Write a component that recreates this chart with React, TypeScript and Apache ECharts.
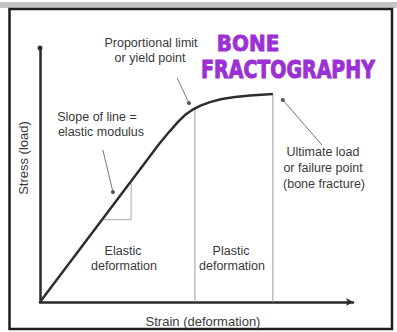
import React, { useEffect, useRef } from "react";
import * as echarts from "echarts";

// Stress–strain curve (strain %, stress %)
const curveStrain = [0, 38.3, 41.5, 44.1, 46.3, 48.6, 51.1, 54.3, 58.1, 62.3, 67.1, 74.4];
const curveStress = [0, 62.6, 67.3, 70.9, 73.6, 75.6, 77.2, 78.7, 79.9, 80.7, 81.3, 81.9];

// region dividers: yield point and failure point
const yieldStrain = 49.5;
const yieldStress = 76.2;
const failStrain = 74.4;
const failStress = 81.9;

// slope triangle
const slopeTri = [
  [20.1, 32.4],
  [29.1, 32.4],
  [29.1, 47.6],
];

// annotation pointers [from, to]
const pointerYield = [
  [43.8, 88.2],
  [47.6, 78.3],
];
const pointerSlope = [
  [20.1, 59.8],
  [23.3, 43.3],
];
const pointerFail = [
  [90.1, 61.8],
  [77.6, 79.5],
];

const FONT = "Liberation Sans, Arial, sans-serif";

export default function App() {
  const ref = useRef<HTMLDivElement>(null);
  useEffect(() => {
    if (!ref.current) return;
    const chart = echarts.init(ref.current, null, { renderer: "svg" });

    const txt = (text: string, x: number, y: number, size = 12.5, extra: any = {}) => ({
      type: "text",
      x,
      y,
      ...extra,
      style: {
        text,
        font: `${size}px ${FONT}`,
        fill: "#3a3a3a",
        textAlign: "center",
        textVerticalAlign: "middle",
      },
    });

    const pointer = (pts: number[][]) => ({
      type: "line",
      data: [
        { value: pts[0], symbol: "none" },
        { value: pts[1], symbol: "circle", symbolSize: 4 },
      ],
      lineStyle: { color: "#777", width: 1 },
      itemStyle: { color: "#555" },
      showSymbol: true,
      silent: true,
      z: 3,
    });

    const option: any = {
      animation: false,
      backgroundColor: "#ffffff",
      grid: { left: 40, top: 48, right: 44, bottom: 30 },
      xAxis: {
        type: "value",
        min: 0,
        max: 100,
        axisLine: {
          show: true,
          lineStyle: { color: "#2a2a2a", width: 2.5 },
          symbol: ["none", "arrow"],
          symbolSize: [6, 7],
        },
        axisTick: { show: false },
        axisLabel: { show: false },
        splitLine: { show: false },
      },
      yAxis: {
        type: "value",
        min: 0,
        max: 100,
        axisLine: {
          show: true,
          lineStyle: { color: "#2a2a2a", width: 2.5 },
          symbol: ["none", "circle"],
          symbolSize: [5, 5],
        },
        axisTick: { show: false },
        axisLabel: { show: false },
        splitLine: { show: false },
      },
      series: [
        {
          type: "line",
          data: curveStrain.map((s, i) => [s, curveStress[i]]),
          smooth: false,
          showSymbol: false,
          lineStyle: { color: "#2e2e2e", width: 2.5, join: "round" },
          z: 4,
        },
        {
          type: "line",
          data: [
            [yieldStrain, 0],
            [yieldStrain, yieldStress],
          ],
          showSymbol: false,
          lineStyle: { color: "#9a9a9a", width: 1 },
        },
        {
          type: "line",
          data: [
            [failStrain, 0],
            [failStrain, failStress],
          ],
          showSymbol: false,
          lineStyle: { color: "#9a9a9a", width: 1 },
        },
        {
          type: "line",
          data: slopeTri,
          showSymbol: false,
          lineStyle: { color: "#aaaaaa", width: 1 },
        },
        pointer(pointerYield),
        pointer(pointerSlope),
        pointer(pointerFail),
      ],
      graphic: [
        { type: "rect", shape: { x: 0, y: 2, width: 397, height: 6 }, style: { fill: "#c4c4c4" } },
        {
          type: "rect",
          shape: { x: 9.5, y: 9, width: 382.5, height: 320 },
          style: { fill: "none", stroke: "#1e1e1e", lineWidth: 2.5 },
        },
        txt("Proportional limit", 151, 43),
        txt("or yield point", 150, 58),
        txt("Slope of line =", 97, 117),
        txt("elastic modulus", 101, 132),
        txt("Elastic", 123, 251),
        txt("deformation", 124, 266),
        txt("Plastic", 231, 251),
        txt("deformation", 232, 266),
        txt("Ultimate load", 323, 152),
        txt("or failure point", 323, 168),
        txt("(bone fracture)", 324, 184),
        txt("Strain (deformation)", 203, 321, 13),
        txt("Stress (load)", 23, 158, 13, { rotation: Math.PI / 2 }),
        {
          type: "text",
          x: 248,
          y: 43,
          scaleY: 1.1,
          style: {
            text: "BONE",
            font: `bold 20px "DejaVu Sans", sans-serif`,
            fill: "#9b30d4",
            stroke: "#9b30d4",
            lineWidth: 0.8,
            textAlign: "center",
            textVerticalAlign: "middle",
          },
        },
        {
          type: "text",
          x: 288,
          y: 69,
          scaleY: 1.35,
          style: {
            text: "FRACTOGRAPHY",
            font: `bold 19px "DejaVu Sans", sans-serif`,
            fill: "#9b30d4",
            stroke: "#9b30d4",
            lineWidth: 0.8,
            textAlign: "center",
            textVerticalAlign: "middle",
          },
        },
      ],
    };
    chart.setOption(option);
    return () => chart.dispose();
  }, []);
  return (
    <div
      ref={ref}
      style={{ position: "absolute", left: 0, top: 0, width: 397, height: 332 }}
    />
  );
}
